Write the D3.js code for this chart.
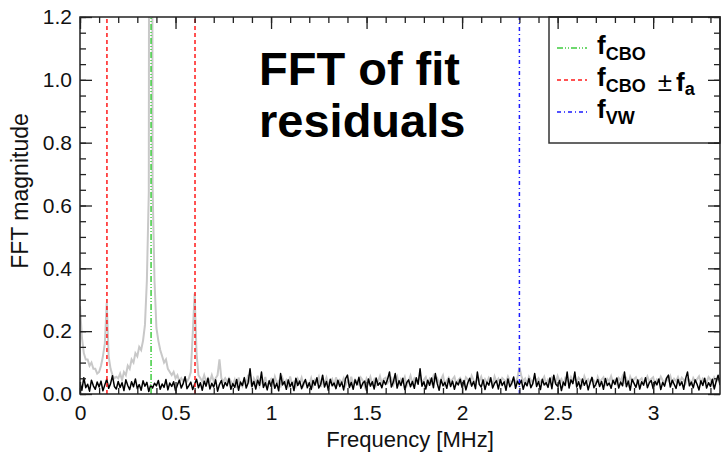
<!DOCTYPE html>
<html><head><meta charset="utf-8">
<script src="https://cdn.jsdelivr.net/npm/d3@7"></script>
<style>body{margin:0;background:#fff}svg{display:block;font-family:"Liberation Sans",Arial,Helvetica,sans-serif}</style>
</head><body><svg id="c" width="721" height="454"></svg>
<script>
// frequency grid step (MHz) for both series
const freqStep = 0.01;
// black: FFT of fit residuals
const blackSeries = [
.035,.012,.052,.020,.031,.009,.044,.026,.015,.038,.022,.041,.010,.029,.047,.018,.033,.058,.024,.016,
.040,.021,.036,.011,.045,.027,.014,.039,.023,.048,.017,.030,.012,.042,.025,.037,.008,.028,.019,.034,
.026,.043,.015,.032,.021,.046,.013,.035,.024,.039,.011,.029,.044,.019,.033,.055,.017,.027,.038,.014,
.031,.047,.020,.036,.012,.041,.025,.050,.016,.034,.022,.045,.009,.030,.043,.018,.037,.026,.049,.015,
.033,.021,.046,.012,.038,.027,.052,.019,.035,.080,.024,.040,.016,.044,.028,.070,.021,.036,.013,.042,
.025,.048,.018,.034,.010,.065,.029,.039,.015,.045,.023,.037,.011,.050,.027,.041,.017,.033,.046,.020,
.036,.014,.043,.028,.052,.019,.031,.060,.022,.040,.012,.047,.026,.035,.017,.044,.024,.038,.013,.049,
.060,.021,.037,.015,.045,.029,.053,.018,.034,.041,.011,.048,.025,.039,.016,.051,.028,.036,.020,.043,
.030,.047,.070,.022,.038,.065,.019,.042,.027,.050,.014,.036,.045,.023,.040,.018,.052,.031,.080,.025,
.039,.016,.044,.028,.051,.020,.065,.033,.012,.046,.026,.037,.018,.049,.024,.041,.015,.038,.029,.047,
.021,.043,.013,.036,.050,.025,.040,.017,.070,.031,.022,.045,.014,.038,.028,.052,.019,.034,.042,.016,
.046,.027,.039,.012,.048,.023,.035,.054,.018,.041,.030,.044,.015,.037,.026,.049,.020,.033,.065,.024,
.040,.014,.047,.029,.036,.021,.051,.017,.060,.032,.025,.043,.011,.038,.027,.070,.019,.045,.033,.070,
.022,.039,.016,.048,.028,.042,.013,.036,.053,.020,.031,.046,.024,.040,.015,.049,.027,.035,.018,.044,
.030,.051,.019,.038,.026,.070,.023,.041,.012,.047,.034,.021,.045,.016,.039,.028,.052,.020,.036,.043,
.017,.040,.029,.048,.014,.037,.025,.050,.060,.022,.044,.031,.018,.046,.027,.039,.015,.049,.070,.026,
.038,.020,.045,.031,.013,.042,.027,.050,.019,.036,.024,.047,.016,.040,.060,.028
];
// gray: FFT of data (with CBO peaks)
const graySeries = [
.28,.18,.13,.11,.11,.09,.10,.08,.08,.065,.07,.09,.12,.16,.29,.12,.08,.06,.05,.055,
.05,.065,.045,.07,.06,.09,.08,.11,.10,.13,.12,.15,.14,.17,.22,.36,.64,6.0,.66,.36,
.21,.17,.14,.12,.10,.11,.08,.07,.06,.07,.05,.06,.04,.05,.04,.05,.04,.05,.07,.19,
.32,.13,.06,.05,.04,.06,.04,.05,.04,.06,.04,.05,.06,.11,.05,.04,.05,.04,.05,.04,
.028,.045,.019,.052,.033,.024,.047,.030,.061,.040,.022,.049,.035,.058,.026,.043,.031,.054,.020,.038,
.047,.029,.055,.036,.042,.021,.050,.033,.044,.027,.056,.031,.039,.024,.048,.035,.052,.028,.041,.034,
.030,.050,.026,.045,.037,.054,.022,.043,.035,.052,.029,.040,.048,.025,.053,.032,.044,.036,.050,.027,
.041,.034,.055,.028,.046,.038,.030,.052,.043,.025,.049,.036,.054,.031,.045,.027,.040,.057,.033,.048,
.052,.035,.042,.050,.029,.044,.056,.032,.047,.038,.054,.026,.041,.058,.033,.049,.037,.044,.060,.036,
.045,.054,.031,.048,.036,.057,.042,.050,.034,.046,.059,.030,.043,.052,.038,.047,.055,.032,.044,.051,
.040,.028,.053,.046,.035,.058,.044,.031,.050,.041,.055,.033,.047,.036,.052,.043,.030,.056,.039,.049,
.034,.051,.045,.038,.056,.042,.031,.048,.037,.052,.085,.058,.040,.049,.033,.055,.044,.036,.053,.041,
.050,.037,.043,.055,.032,.046,.039,.053,.045,.034,.057,.041,.048,.030,.051,.044,.036,.054,.042,.049,
.038,.052,.044,.031,.056,.040,.047,.035,.050,.043,.029,.054,.039,.046,.053,.033,.048,.041,.057,.036,
.045,.033,.051,.042,.057,.038,.049,.030,.055,.040,.047,.053,.036,.044,.050,.034,.043,.056,.039,.048,
.053,.031,.046,.040,.055,.043,.036,.050,.042,.057,.035,.048,.041,.054,.037,.052,.045,.033,.049,.044,
.032,.051,.040,.047,.056,.035,.049,.043,.038,.054,.046,.030,.052,.041,.044,.050
];
// vertical marker lines
const markerNames = ["fCBO-fa","fCBO","fCBO+fa","fVW"];
const markerFreqs = [0.141, 0.372, 0.602, 2.30];
const markerKinds = ["red","green","red","blue"];
// axes
const xTickValues = [0,0.5,1,1.5,2,2.5,3];
const xTickLabels = ["0","0.5","1","1.5","2","2.5","3"];
const yTickValues = [0,0.2,0.4,0.6,0.8,1.0,1.2];
const yTickLabels = ["0.0","0.2","0.4","0.6","0.8","1.0","1.2"];
const xMinor = d3.range(0, 3.36, 0.1);
const yMinor = d3.range(0, 1.201, 0.05);

const styles = {
  red:{color:"#ff1a1a",dash:"4,3"},
  green:{color:"#3fcc3f",dash:"6,2,1,2,1,2"},
  blue:{color:"#1a1aff",dash:"4,3,1,3"}
};

const svg = d3.select("#c");
const L=80,R=720,T=17,B=394;
const x = d3.scaleLinear().domain([0,3.35]).range([L,R]);
const y = d3.scaleLinear().domain([0,1.2]).range([B,T]);

svg.append("defs").append("clipPath").attr("id","clip")
  .append("rect").attr("x",L).attr("y",T).attr("width",R-L).attr("height",B-T);

const line = d3.line().x((d,i)=>x(i*freqStep)).y(d=>y(d));
const g = svg.append("g").attr("clip-path","url(#clip)");
g.append("path").datum(graySeries).attr("d",line).attr("fill","none")
  .attr("stroke","#c8c8c8").attr("stroke-width",2);
g.append("path").datum(blackSeries).attr("d",line).attr("fill","none")
  .attr("stroke","#000").attr("stroke-width",1.5).attr("stroke-linejoin","round");

markerFreqs.forEach((f,i)=>{
  const s = styles[markerKinds[i]];
  g.append("line").attr("x1",x(f)).attr("x2",x(f)).attr("y1",y(0)).attr("y2",y(1.2))
   .attr("stroke",s.color).attr("stroke-width",1.5).attr("stroke-dasharray",s.dash);
});

// legend box
svg.append("rect").attr("x",549).attr("y",T).attr("width",R-549).attr("height",143-T)
  .attr("fill","none").attr("stroke","#333").attr("stroke-width",1.5);

function styleAxis(sel){
  sel.selectAll(".domain").remove();
  sel.selectAll(".tick line").attr("stroke","#222").attr("stroke-width",1.3);
  sel.selectAll("text").attr("font-size",21).attr("fill","#111");
}
const fmtX = (d,i)=>xTickLabels[i];
const fmtY = (d,i)=>yTickLabels[i];
// bottom
svg.append("g").attr("transform",`translate(0,${B})`)
  .call(d3.axisBottom(x).tickValues(xMinor).tickSize(-6).tickFormat(""))
  .call(styleAxis);
svg.append("g").attr("transform",`translate(0,${B})`)
  .call(d3.axisBottom(x).tickValues(xTickValues).tickSize(-12).tickPadding(11).tickFormat(fmtX))
  .call(styleAxis);
// top
svg.append("g").attr("transform",`translate(0,${T})`)
  .call(d3.axisTop(x).tickValues(xMinor).tickSize(-6).tickFormat(""))
  .call(styleAxis);
svg.append("g").attr("transform",`translate(0,${T})`)
  .call(d3.axisTop(x).tickValues(xTickValues).tickSize(-12).tickFormat(""))
  .call(styleAxis);
// left
svg.append("g").attr("transform",`translate(${L},0)`)
  .call(d3.axisLeft(y).tickValues(yMinor).tickSize(-6).tickFormat(""))
  .call(styleAxis);
svg.append("g").attr("transform",`translate(${L},0)`)
  .call(d3.axisLeft(y).tickValues(yTickValues).tickSize(-12).tickPadding(8).tickFormat(fmtY))
  .call(styleAxis);
// right
svg.append("g").attr("transform",`translate(${R},0)`)
  .call(d3.axisRight(y).tickValues(yMinor).tickSize(-6).tickFormat(""))
  .call(styleAxis);
svg.append("g").attr("transform",`translate(${R},0)`)
  .call(d3.axisRight(y).tickValues(yTickValues).tickSize(-12).tickFormat(""))
  .call(styleAxis);

// frame
svg.append("rect").attr("x",L).attr("y",T).attr("width",R-L).attr("height",B-T)
  .attr("fill","none").attr("stroke","#222").attr("stroke-width",1.5);

// axis titles
svg.append("text").attr("x",410).attr("y",447).attr("text-anchor","middle")
  .attr("font-size",22).attr("fill","#111").text("Frequency [MHz]");
svg.append("text").attr("transform","translate(28,191) rotate(-90)").attr("text-anchor","middle")
  .attr("font-size",23).attr("fill","#111").text("FFT magnitude");

// title
const title = svg.append("text").attr("font-size",47).attr("font-weight","bold").attr("fill","#000");
title.append("tspan").attr("x",259).attr("y",85).text("FFT of fit");
title.append("tspan").attr("x",259).attr("y",137).text("residuals");

// legend
const legRows = [
  {kind:"green", y:48},
  {kind:"red", y:80},
  {kind:"blue", y:112}
];
legRows.forEach(r=>{
  const s = styles[r.kind];
  svg.append("line").attr("x1",557).attr("x2",587).attr("y1",r.y).attr("y2",r.y)
    .attr("stroke",s.color).attr("stroke-width",1.5).attr("stroke-dasharray",s.dash);
});
function legText(yb, sub){
  const t = svg.append("text").attr("x",597).attr("y",yb).attr("font-weight","bold")
    .attr("font-size",26).attr("fill","#000");
  t.append("tspan").text("f");
  t.append("tspan").attr("font-size",18).attr("dy",6).text(sub);
  return t;
}
legText(54,"CBO");
const t2 = legText(86,"CBO");
t2.append("tspan").attr("font-weight","normal").attr("font-size",26).attr("dx",12).attr("dy",-1).text("±");
t2.append("tspan").attr("dx",4).text("f");
t2.append("tspan").attr("font-size",18).attr("dy",4).text("a");
legText(118,"VW");
</script></body></html>
